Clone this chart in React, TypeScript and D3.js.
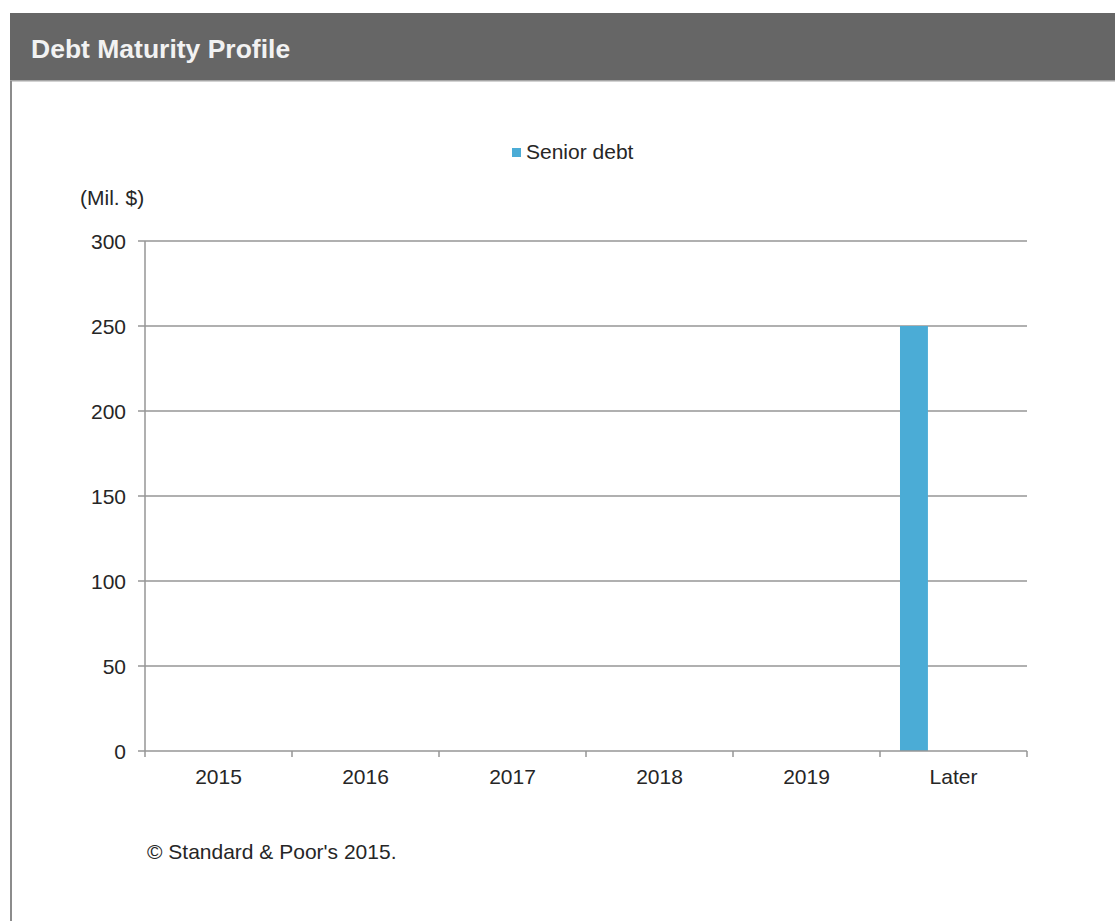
import React from "react";
import * as d3 from "d3";

const categories = ["2015", "2016", "2017", "2018", "2019", "Later"];
const seniorDebt = [0, 0, 0, 0, 0, 250];
const yTicks = [0, 50, 100, 150, 200, 250, 300];
const seriesName = "Senior debt";
const title = "Debt Maturity Profile";
const unitLabel = "(Mil. $)";
const footnote = "© Standard & Poor's 2015.";

const W = 1115;
const H = 921;
const FONT = "Arial, 'Liberation Sans', Helvetica, sans-serif";
const BAR = "#4BACD6";
const GRID = "#969696";

export default function App() {
  const x = d3.scaleBand<string>().domain(categories).range([145, 1027]).padding(0);
  const y = d3.scaleLinear().domain([0, 300]).range([751, 241]);
  const bw = x.bandwidth();

  return (
    <svg
      width={W}
      height={H}
      style={{ position: "absolute", left: 0, top: 0, background: "#fff" }}
      fontFamily={FONT}
    >
      <rect x={0} y={0} width={W} height={H} fill="#fff" />
      {/* header */}
      <rect x={10} y={13} width={W - 10} height={67} fill="#666666" />
      <rect x={10} y={80} width={W - 10} height={1.5} fill="#a6a6a6" />
      <text x={31} y={58} fill="#f2f2f2" fontSize={26.5} fontWeight="bold">
        {title}
      </text>
      {/* left border */}
      <rect x={10} y={81} width={2} height={H - 81} fill="#8c8c8c" />

      {/* legend */}
      <rect x={512} y={148} width={9} height={9} fill={BAR} />
      <text x={526} y={158.5} fontSize={21} fill="#262626">
        {seriesName}
      </text>

      {/* unit label */}
      <text x={80} y={205} fontSize={21} fill="#262626">
        {unitLabel}
      </text>

      {/* gridlines */}
      {yTicks
        .filter((t) => t !== 0)
        .map((t) => (
          <line
            key={"g" + t}
            x1={145}
            x2={1027}
            y1={y(t)}
            y2={y(t)}
            stroke={GRID}
            strokeWidth={1.5}
          />
        ))}

      {/* bars */}
      {categories.map((c, i) =>
        seniorDebt[i] > 0 ? (
          <rect
            key={"b" + c}
            x={(x(c) as number) + bw * 0.136}
            y={y(seniorDebt[i])}
            width={bw * 0.19}
            height={y(0) - y(seniorDebt[i])}
            fill={BAR}
          />
        ) : null
      )}

      {/* y axis */}
      <line x1={145} x2={145} y1={y(300)} y2={y(0)} stroke={GRID} strokeWidth={1.5} />
      {yTicks.map((t) => (
        <g key={"y" + t}>
          <line x1={138} x2={145} y1={y(t)} y2={y(t)} stroke={GRID} strokeWidth={1.5} />
          <text
            x={126}
            y={y(t)}
            dy="0.36em"
            textAnchor="end"
            fontSize={21}
            fill="#262626"
          >
            {t}
          </text>
        </g>
      ))}

      {/* x axis */}
      <line x1={145} x2={1027} y1={y(0)} y2={y(0)} stroke={GRID} strokeWidth={1.5} />
      {categories.map((c) => (
        <line
          key={"xt" + c}
          x1={x(c) as number}
          x2={x(c) as number}
          y1={y(0)}
          y2={y(0) + 6}
          stroke={GRID}
          strokeWidth={1.5}
        />
      ))}
      <line x1={1027} x2={1027} y1={y(0)} y2={y(0) + 6} stroke={GRID} strokeWidth={1.5} />
      {categories.map((c) => (
        <text
          key={"xl" + c}
          x={(x(c) as number) + bw / 2}
          y={784}
          textAnchor="middle"
          fontSize={21}
          fill="#262626"
        >
          {c}
        </text>
      ))}

      {/* footnote */}
      <text x={147} y={859} fontSize={21} fill="#262626">
        {footnote}
      </text>
    </svg>
  );
}
